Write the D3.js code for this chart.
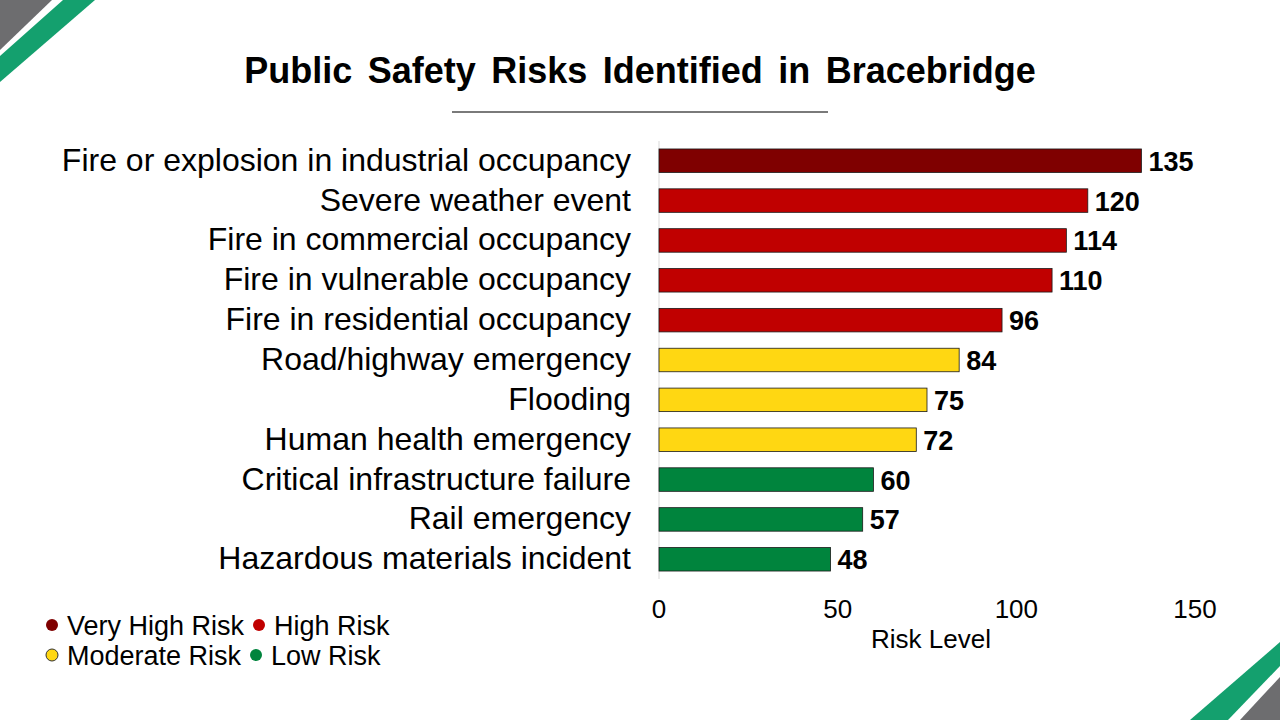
<!DOCTYPE html>
<html lang="en">
<head>
  <meta charset="UTF-8">
  <title>Public Safety Risks Identified in Bracebridge</title>
  <script src="https://cdn.jsdelivr.net/npm/d3@7/dist/d3.min.js"></script>
  <style>
    html, body { margin: 0; padding: 0; background: #fff; }
    svg { display: block; font-family: "Liberation Sans", Arial, sans-serif; }
    .cat { font-size: 32px; fill: #000; }
    .val { font-size: 27px; font-weight: bold; fill: #000; }
    .tick-label { font-size: 26px; fill: #000; }
    .legend text { font-size: 27px; fill: #000; }
  </style>
</head>
<body>
  <script>
    // data
    const categories = [
      "Fire or explosion in industrial occupancy",
      "Severe weather event",
      "Fire in commercial occupancy",
      "Fire in vulnerable occupancy",
      "Fire in residential occupancy",
      "Road/highway emergency",
      "Flooding",
      "Human health emergency",
      "Critical infrastructure failure",
      "Rail emergency",
      "Hazardous materials incident"
    ];
    const values = [135, 120, 114, 110, 96, 84, 75, 72, 60, 57, 48];
    const riskLevels = ["Very High", "High", "High", "High", "High",
      "Moderate", "Moderate", "Moderate", "Low", "Low", "Low"];
    const xTicks = [0, 50, 100, 150];

    const legendNames = ["Very High", "High", "Moderate", "Low"];
    const legendLabels = ["Very High Risk", "High Risk", "Moderate Risk", "Low Risk"];
    const legendColors = ["#7f0000", "#c00000", "#ffd712", "#00843d"];

    const width = 1280;
    const height = 720;

    const color = d3.scaleOrdinal().domain(legendNames).range(legendColors);

    const svg = d3.select("body")
      .append("svg")
      .attr("width", width)
      .attr("height", height);

    // corner decorations
    const corners = [
      { pts: [[0, 0], [52, 0], [0, 50]], fill: "#6d6d6f" },
      { pts: [[63, 0], [95, 0], [0, 82], [0, 56]], fill: "#14a06e" },
      { pts: [[1280, 642], [1280, 666], [1228, 720], [1190, 720]], fill: "#14a06e" },
      { pts: [[1280, 677], [1280, 720], [1240, 720]], fill: "#6d6d6f" }
    ];
    svg.selectAll(".corner")
      .data(corners)
      .enter().append("polygon")
      .attr("class", "corner")
      .attr("points", d => d.pts.map(p => p.join(",")).join(" "))
      .attr("fill", d => d.fill);

    // title
    svg.append("text")
      .attr("x", 640)
      .attr("y", 83)
      .attr("text-anchor", "middle")
      .style("font-size", "36px")
      .style("font-weight", "bold")
      .style("word-spacing", "5.5px")
      .text("Public Safety Risks Identified in Bracebridge");

    svg.append("line")
      .attr("x1", 452).attr("x2", 828)
      .attr("y1", 112).attr("y2", 112)
      .attr("stroke", "#7a7a7a")
      .attr("stroke-width", 2);

    // scales
    const x = d3.scaleLinear().domain([0, 150]).range([659, 1195]);
    const y = d3.scaleBand().domain(categories).range([141, 579])
      .paddingInner(0.41).paddingOuter(0.2);

    // vertical axis line
    svg.append("line")
      .attr("x1", x(0)).attr("x2", x(0))
      .attr("y1", y.range()[0]).attr("y2", y.range()[1])
      .attr("stroke", "#d9d9d9")
      .attr("stroke-width", 1);

    const rows = categories.map((c, i) => ({ name: c, value: values[i], level: riskLevels[i] }));

    svg.selectAll(".bar")
      .data(rows)
      .enter().append("rect")
      .attr("class", "bar")
      .attr("x", x(0))
      .attr("y", d => y(d.name))
      .attr("width", d => x(d.value) - x(0))
      .attr("height", y.bandwidth())
      .attr("fill", d => color(d.level))
      .attr("stroke", "#1a1a1a")
      .attr("stroke-width", 0.8);

    svg.selectAll(".val")
      .data(rows)
      .enter().append("text")
      .attr("class", "val")
      .attr("x", d => x(d.value) + 7)
      .attr("y", d => y(d.name) + y.bandwidth() / 2 + 10)
      .text(d => d.value);

    svg.selectAll(".cat")
      .data(rows)
      .enter().append("text")
      .attr("class", "cat")
      .attr("x", 631)
      .attr("y", d => y(d.name) + y.bandwidth() / 2 + 10)
      .attr("text-anchor", "end")
      .text(d => d.name);

    // x tick labels (no axis line in the original)
    svg.selectAll(".tick-label")
      .data(xTicks)
      .enter().append("text")
      .attr("class", "tick-label")
      .attr("x", d => x(d))
      .attr("y", 618)
      .attr("text-anchor", "middle")
      .text(d => d);

    svg.append("text")
      .attr("x", 931)
      .attr("y", 648)
      .attr("text-anchor", "middle")
      .style("font-size", "26px")
      .text("Risk Level");

    // legend, two rows
    const legendPos = [
      { cx: 52, cy: 625 }, { cx: 259, cy: 625 },
      { cx: 52, cy: 655 }, { cx: 256, cy: 655 }
    ];
    const legend = svg.append("g").attr("class", "legend")
      .selectAll("g")
      .data(legendNames)
      .enter().append("g")
      .attr("transform", (d, i) => `translate(${legendPos[i].cx},${legendPos[i].cy})`);

    legend.append("circle")
      .attr("r", 6)
      .attr("fill", d => color(d))
      .attr("stroke", d => d === "Moderate" ? "#333" : "none")
      .attr("stroke-width", 1);

    legend.append("text")
      .attr("x", 15)
      .attr("y", 9.5)
      .text((d, i) => legendLabels[i]);
  </script>
</body>
</html>
